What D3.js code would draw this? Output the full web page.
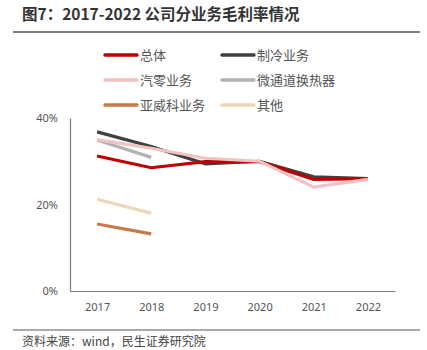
<!DOCTYPE html>
<html>
<head>
<meta charset="utf-8">
<script src="https://cdn.jsdelivr.net/npm/d3@7"></script>
<style>
  body { margin: 0; background: #fff; }
  svg { font-family: "Noto Sans CJK SC", "Noto Sans", sans-serif; }
</style>
</head>
<body>
<svg id="chart"></svg>
<script>
// data (gross margin, %)
const years = ["2017", "2018", "2019", "2020", "2021", "2022"];
const seriesNames = ["总体", "制冷业务", "汽零业务", "微通道换热器", "亚威科业务", "其他"];
const total = [31.2, 28.5, 29.9, 29.9, 25.8, 26.0];
const refrig = [36.8, 33.4, 29.4, 30.0, 26.4, 26.0];
const autoParts = [35.0, 33.0, 30.7, 30.0, 24.0, 25.8];
const microChannel = [34.9, 30.9, null, null, null, null];
const yaweike = [15.5, 13.2, null, null, null, null];
const other = [21.2, 18.0, null, null, null, null];
const yTicks = [0, 20, 40];

const colors = ["#C00000", "#404040", "#F0C2C2", "#B2B2B2", "#C47A48", "#EDD8B6"];
const allValues = [total, refrig, autoParts, microChannel, yaweike, other];
// draw order so the red line sits above the grey/pink ones like the reference
const drawOrder = [3, 5, 4, 1, 0, 2];

const width = 427, height = 350;
const margin = { top: 118, right: 32, bottom: 59, left: 70 };
const innerW = width - margin.left - margin.right;
const innerH = height - margin.top - margin.bottom;

const svg = d3.select("#chart").attr("width", width).attr("height", height);

// title + rules
svg.append("text")
    .attr("x", 22).attr("y", 20)
    .attr("font-size", 15.5).attr("font-weight", "bold").attr("fill", "#333")
    .text("图7：2017-2022 公司分业务毛利率情况");
svg.append("line").attr("x1", 13).attr("x2", 420).attr("y1", 32).attr("y2", 32)
    .attr("stroke", "#555").attr("stroke-width", 1.5);
svg.append("line").attr("x1", 13).attr("x2", 420).attr("y1", 330).attr("y2", 330)
    .attr("stroke", "#555").attr("stroke-width", 1.2);
svg.append("text")
    .attr("x", 22).attr("y", 346)
    .attr("font-size", 12).attr("fill", "#444")
    .text("资料来源：wind，民生证券研究院");

const x = d3.scalePoint().domain(years).range([0, innerW]).padding(0.5);
const y = d3.scaleLinear().domain([0, 40]).range([innerH, 0]);

const g = svg.append("g").attr("transform", `translate(${margin.left},${margin.top})`);

// axes
const xAxis = g.append("g").attr("transform", `translate(0,${innerH})`)
    .call(d3.axisBottom(x).tickSize(0).tickPadding(12));
xAxis.select(".domain").attr("stroke", "#7a7a7a").attr("stroke-width", 1.2);
xAxis.selectAll("text").attr("font-size", 11).attr("fill", "#555")
    .attr("font-family", "Noto Sans, sans-serif");

const yAxis = g.append("g")
    .call(d3.axisLeft(y).tickValues(yTicks).tickFormat(d => d + "%").tickSize(0).tickPadding(12));
yAxis.select(".domain").attr("stroke", "#7a7a7a").attr("stroke-width", 1.2);
yAxis.selectAll("text").attr("font-size", 11).attr("fill", "#555")
    .attr("font-family", "Noto Sans, sans-serif");

// lines
const line = d3.line()
    .defined(d => d.v != null)
    .x(d => x(d.year))
    .y(d => y(d.v));

drawOrder.forEach(i => {
    const pts = years.map((yr, j) => ({ year: yr, v: allValues[i][j] }));
    g.append("path")
        .datum(pts)
        .attr("fill", "none")
        .attr("stroke", colors[i])
        .attr("stroke-width", 3.2)
        .attr("stroke-linejoin", "miter")
        .attr("d", line);
});

// legend (3 rows x 2 cols)
const legend = svg.append("g");
seriesNames.forEach((name, i) => {
    const col = i % 2, row = Math.floor(i / 2);
    const lx = col === 0 ? 105 : 222;
    const ly = 55 + row * 25;
    legend.append("line")
        .attr("x1", lx).attr("x2", lx + 32).attr("y1", ly).attr("y2", ly)
        .attr("stroke", colors[i]).attr("stroke-width", 3.5).attr("stroke-linecap", "round");
    legend.append("text")
        .attr("x", lx + 35).attr("y", ly).attr("dy", "0.35em")
        .attr("font-size", 13).attr("fill", "#555")
        .text(name);
});
</script>
</body>
</html>
